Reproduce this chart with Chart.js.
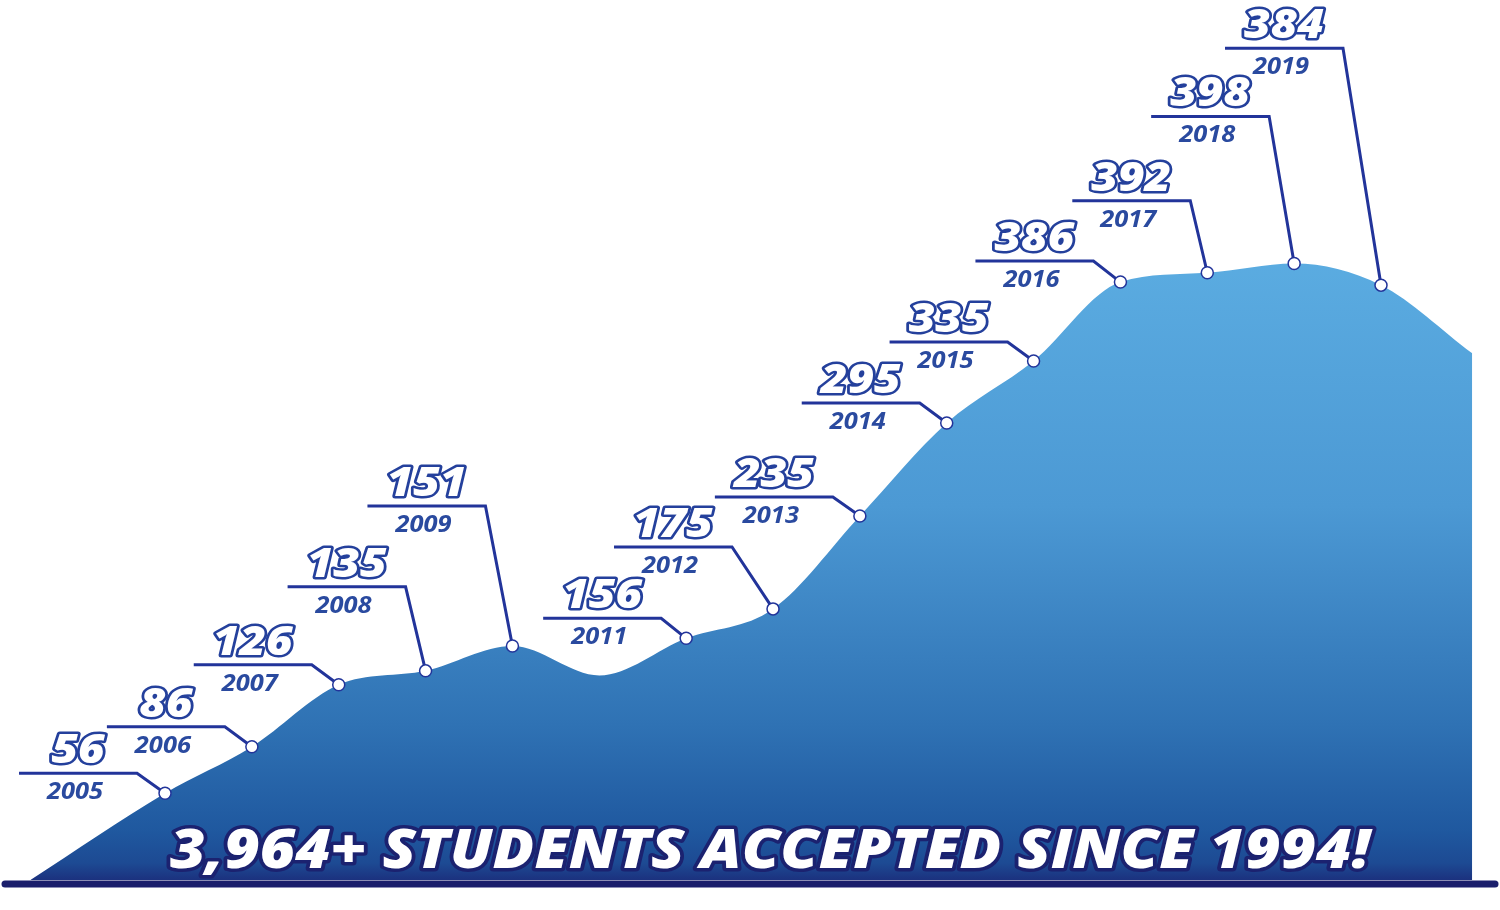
<!DOCTYPE html>
<html><head><meta charset="utf-8">
<script src="https://cdn.jsdelivr.net/npm/chart.js@4.4.1/dist/chart.umd.min.js"></script>
<style>html,body{margin:0;padding:0;background:#fff;overflow:hidden}canvas{display:block}</style>
</head><body>
<canvas id="c" width="1500" height="910"></canvas>
<script>
// ---- data ----
const years = [2005, 2006, 2007, 2008, 2009, 2011, 2012, 2013, 2014, 2015, 2016, 2017, 2018, 2019];
const students = [56, 86, 126, 135, 151, 156, 175, 235, 295, 335, 386, 392, 398, 384];
// unlabeled points that shape the curve
const dipYears = [2010];
const dipValues = [132];
const edgeYears = [2003.45, 2020.05];
const edgeValues = [0, 340];
const headline = "3,964+ STUDENTS ACCEPTED SINCE 1994!";

// ---- label layout (px offset of the leader elbow from each point) ----
const elbows = [[-28,-20],[-27,-20],[-27,-20],[-20,-84],[-27,-140],[-25,-20],[-41,-62],[-27,-19],[-27,-20],[-26,-19],[-27,-21],[-17,-72],[-25,-147],[-38,-237]];

const curve = [];
years.forEach((y, i) => curve.push({x: y, y: students[i]}));
dipYears.forEach((y, i) => curve.push({x: y, y: dipValues[i]}));
edgeYears.forEach((y, i) => curve.push({x: y, y: edgeValues[i]}));
curve.sort((a, b) => a.x - b.x);
const marks = years.map((y, i) => ({x: y, y: students[i]}));

const NAVY = '#22349a';

const labelPlugin = {
  id: 'labelPlugin',
  beforeDatasetDraw(chart, args) {
    if (args.index !== 0) return;
    const ctx = chart.ctx;
    const meta = chart.getDatasetMeta(0);
    ctx.save();
    meta.data.forEach((pt, i) => {
      const ex = pt.x + elbows[i][0], ey = pt.y + elbows[i][1];
      const lx = ex - 118;
      ctx.beginPath();
      ctx.moveTo(lx, ey); ctx.lineTo(ex, ey); ctx.lineTo(pt.x, pt.y);
      ctx.strokeStyle = NAVY; ctx.lineWidth = 3; ctx.lineJoin = 'miter'; ctx.lineCap = 'butt';
      ctx.stroke();
      const cx = (lx + ex) / 2;
      ctx.textAlign = 'center'; ctx.textBaseline = 'alphabetic';
      // value (outlined)
      ctx.save();
      ctx.translate(cx, ey - 10);
      ctx.scale(1.12, 1);
      ctx.font = "italic 800 41px 'Open Sans'";
      ctx.lineJoin = 'round'; ctx.lineWidth = 5; ctx.strokeStyle = '#24409c';
      ctx.strokeText(String(students[i]), 0, 0);
      ctx.fillStyle = '#ffffff';
      ctx.fillText(String(students[i]), 0, 0);
      ctx.restore();
      // year
      ctx.save();
      ctx.translate(cx - 3, ey + 26);
      ctx.scale(1.06, 1);
      ctx.font = "italic 700 24px 'Open Sans'";
      ctx.fillStyle = '#2a4a9f';
      ctx.fillText(String(years[i]), 0, 0);
      ctx.restore();
    });
    ctx.restore();
  },
  afterDatasetsDraw(chart) {
    const ctx = chart.ctx;
    ctx.save();
    // baseline bar
    ctx.beginPath();
    ctx.moveTo(5, 884); ctx.lineTo(1495, 884);
    ctx.strokeStyle = '#1b1f6c'; ctx.lineWidth = 7; ctx.lineCap = 'round';
    ctx.stroke();
    // headline
    ctx.font = "italic 800 55px 'Open Sans'";
    ctx.textAlign = 'center'; ctx.textBaseline = 'alphabetic';
    const w = ctx.measureText(headline).width;
    ctx.translate(770, 868);
    ctx.scale(1200 / w, 1);
    ctx.lineJoin = 'round'; ctx.lineWidth = 7; ctx.strokeStyle = '#1b2270';
    ctx.strokeText(headline, 0, 0);
    ctx.fillStyle = '#ffffff';
    ctx.fillText(headline, 0, 0);
    ctx.restore();
  }
};

function areaGradient(context) {
  const chart = context.chart;
  const {ctx, chartArea} = chart;
  if (!chartArea) return '#4a97d2';
  const g = ctx.createLinearGradient(0, 255, 0, 882);
  g.addColorStop(0, '#5bace1');
  g.addColorStop(0.4, '#4c99d4');
  g.addColorStop(0.75, '#2f72b4');
  g.addColorStop(0.92, '#1f589f');
  g.addColorStop(0.97, '#1d4a93');
  g.addColorStop(1, '#1b2e7c');
  return g;
}

new Chart(document.getElementById('c'), {
  type: 'line',
  data: {
    datasets: [
      {
        data: marks, order: 0, showLine: false,
        pointRadius: 6, pointBackgroundColor: '#ffffff', pointBorderColor: NAVY, pointBorderWidth: 1.5
      },
      {
        data: curve, order: 1, fill: 'origin', borderWidth: 0, pointRadius: 0,
        cubicInterpolationMode: 'monotone', backgroundColor: areaGradient
      }
    ]
  },
  options: {
    responsive: false, animation: false, events: [],
    layout: {padding: 0, autoPadding: false},
    plugins: {legend: {display: false}, tooltip: {enabled: false}, title: {display: false}},
    scales: {
      x: {type: 'linear', min: 2003.1, max: 2020.37, display: false},
      y: {type: 'linear', min: -19.4, max: 568.1, display: false}
    }
  },
  plugins: [labelPlugin]
});
</script>
</body></html>
